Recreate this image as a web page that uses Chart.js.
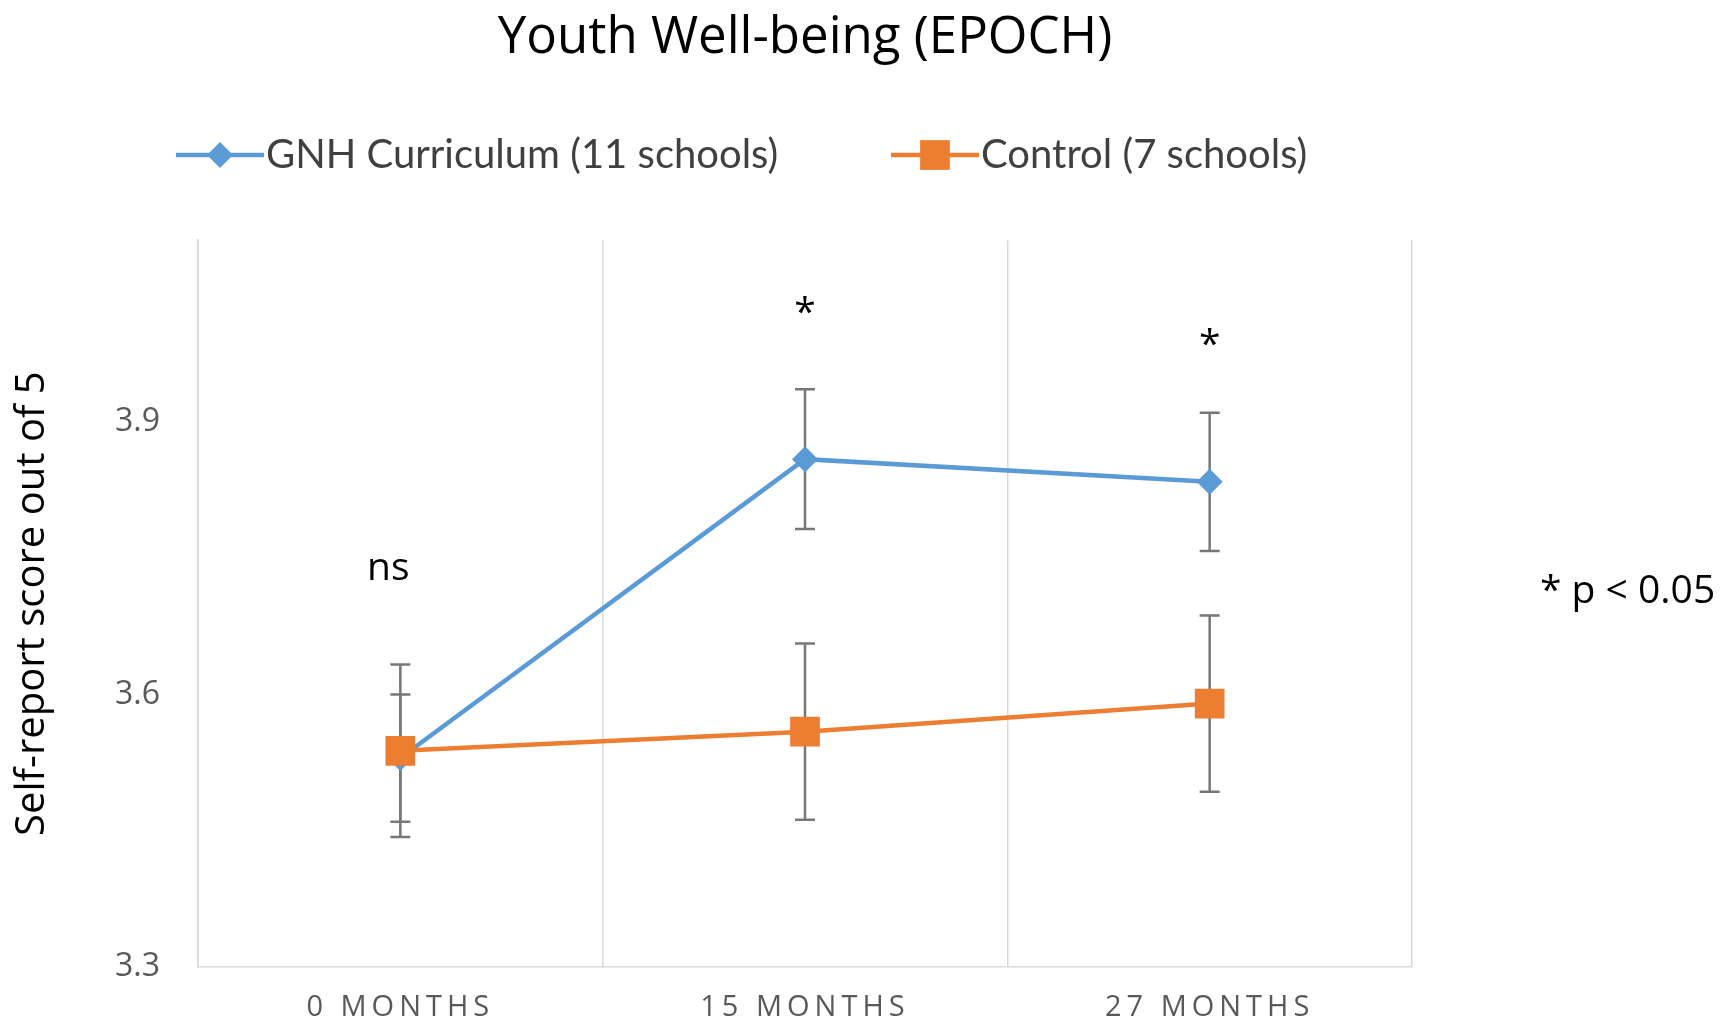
<!DOCTYPE html>
<html>
<head>
<meta charset="utf-8">
<script src="https://cdn.jsdelivr.net/npm/chart.js@4.4.0/dist/chart.umd.min.js"></script>
<style>
  html, body { margin: 0; padding: 0; background: #fff; }
  #wrap { width: 1725px; height: 1026px; position: relative; }
</style>
</head>
<body>
<div id="wrap"><canvas id="epochChart"></canvas></div>
<script>
// --- values ---
const timepoints = ['0 MONTHS', '15 MONTHS', '27 MONTHS'];
const gnhScores = [3.53, 3.859, 3.834];
const gnhErrors = [0.07, 0.077, 0.076];
const controlScores = [3.538, 3.559, 3.59];
const controlErrors = [0.095, 0.097, 0.097];
const yTicks = [3.3, 3.6, 3.9];
const sigLabels = ['ns', '*', '*'];
const sigLevels = [3.738, 4.019, 3.984];
const sigNote = '* p < 0.05';

const BLUE = '#5B9BD5';
const ORANGE = '#ED7D31';
const errorSets = [gnhErrors, controlErrors];

Chart.defaults.font.family = "'Open Sans', sans-serif";

// error bars, drawn under the markers
const errorBars = {
    id: 'errorBars',
    beforeDatasetsDraw(chart) {
        const { ctx, scales: { x, y } } = chart;
        ctx.save();
        ctx.strokeStyle = '#777777';
        ctx.lineWidth = 2.5;
        chart.data.datasets.forEach((ds, d) => {
            errorSets[d].forEach((e, i) => {
                const px = x.getPixelForValue(i);
                const top = y.getPixelForValue(ds.data[i] + e);
                const bot = y.getPixelForValue(ds.data[i] - e);
                ctx.beginPath();
                ctx.moveTo(px, top); ctx.lineTo(px, bot);
                ctx.moveTo(px - 10, top); ctx.lineTo(px + 10, top);
                ctx.moveTo(px - 10, bot); ctx.lineTo(px + 10, bot);
                ctx.stroke();
            });
        });
        ctx.restore();
    }
};

// significance marks + note on the right
const sigMarks = {
    id: 'sigMarks',
    afterDatasetsDraw(chart) {
        const { ctx, scales: { x, y } } = chart;
        ctx.save();
        ctx.fillStyle = '#000';
        ctx.font = "39px 'Open Sans'";
        ctx.textAlign = 'center';
        ctx.textBaseline = 'middle';
        sigLabels.forEach((s, i) => {
            // the "ns" sits a little left of its column in the original
            const dx = s === 'ns' ? -12 : 0;
            ctx.fillText(s, x.getPixelForValue(i) + dx, y.getPixelForValue(sigLevels[i]));
        });
        ctx.textAlign = 'left';
        ctx.fillText(sigNote, 1540, 592);
        ctx.restore();
    }
};

// legend: line + marker + label, like the original
const lineLegend = {
    id: 'lineLegend',
    afterDraw(chart) {
        const ctx = chart.ctx;
        const slots = [176, 891];
        const yMid = 155;
        ctx.save();
        ctx.font = "40px Lato";
        ctx.textBaseline = 'middle';
        chart.data.datasets.forEach((ds, d) => {
            const x0 = slots[d];
            const cx = x0 + 44;
            ctx.strokeStyle = ds.borderColor;
            ctx.lineWidth = 4.5;
            ctx.beginPath();
            ctx.moveTo(x0, yMid); ctx.lineTo(x0 + 88, yMid);
            ctx.stroke();
            ctx.fillStyle = ds.borderColor;
            ctx.beginPath();
            if (ds.pointStyle === 'rectRot') {
                const r = ds.pointRadius;
                ctx.moveTo(cx, yMid - r); ctx.lineTo(cx + r, yMid);
                ctx.lineTo(cx, yMid + r); ctx.lineTo(cx - r, yMid);
                ctx.closePath();
            } else {
                const h = ds.pointRadius * Math.SQRT1_2;
                ctx.rect(cx - h, yMid - h, 2 * h, 2 * h);
            }
            ctx.fill();
            ctx.fillStyle = '#404040';
            ctx.fillText(ds.label, x0 + 90, yMid);
        });
        ctx.restore();
    }
};

// letter-spaced category labels
const spacedTicks = {
    id: 'spacedTicks',
    afterUpdate(chart) {
        const xs = chart.scales.x;
        if (xs && !xs._spaced) {
            const orig = xs.drawLabels;
            xs.drawLabels = function (area) {
                chart.ctx.letterSpacing = '5px';
                orig.call(this, area);
                chart.ctx.letterSpacing = '0px';
            };
            xs._spaced = true;
        }
    }
};

new Chart(document.getElementById('epochChart'), {
    type: 'line',
    data: {
        labels: timepoints,
        datasets: [{
            label: 'GNH Curriculum (11 schools)',
            data: gnhScores,
            borderColor: BLUE,
            backgroundColor: BLUE,
            borderWidth: 4.5,
            pointStyle: 'rectRot',
            pointRadius: 13,
            pointBorderWidth: 0,
            order: 1,
            tension: 0
        }, {
            label: 'Control (7 schools)',
            data: controlScores,
            borderColor: ORANGE,
            backgroundColor: ORANGE,
            borderWidth: 4.5,
            pointStyle: 'rect',
            pointRadius: 21,
            pointBorderWidth: 0,
            order: 0,
            tension: 0
        }]
    },
    options: {
        responsive: true,
        maintainAspectRatio: false,
        animation: false,
        layout: { padding: { left: 0, right: 313, top: 0, bottom: 0 } },
        plugins: {
            legend: { display: false },
            tooltip: { enabled: false },
            title: {
                display: true,
                fullSize: false,
                text: 'Youth Well-being (EPOCH)',
                color: '#000',
                font: { size: 51, weight: 'normal' },
                padding: { top: 8, bottom: 171 }
            }
        },
        scales: {
            x: {
                offset: true,
                grid: { display: true, offset: true, color: '#d9d9d9', lineWidth: 1.5, drawTicks: false },
                border: { display: true, color: '#d9d9d9', width: 1.5 },
                ticks: { color: '#595959', font: { size: 29 }, padding: 23 },
                afterFit: (s) => { s.height = 59; }
            },
            y: {
                min: 3.3,
                max: 4.1,
                grid: { display: false },
                border: { display: true, color: '#d9d9d9', width: 1.5 },
                afterBuildTicks: (s) => { s.ticks = yTicks.map(v => ({ value: v })); },
                ticks: {
                    color: '#595959',
                    font: { size: 32 },
                    padding: 30,
                    callback: (v) => Number(v).toFixed(1)
                },
                title: {
                    display: true,
                    text: 'Self-report score out of 5',
                    color: '#000',
                    font: { size: 40 },
                    padding: { top: 9, bottom: 0 }
                },
                afterFit: (s) => { s.width = 198; }
            }
        }
    },
    plugins: [errorBars, sigMarks, lineLegend, spacedTicks]
});
</script>
</body>
</html>
